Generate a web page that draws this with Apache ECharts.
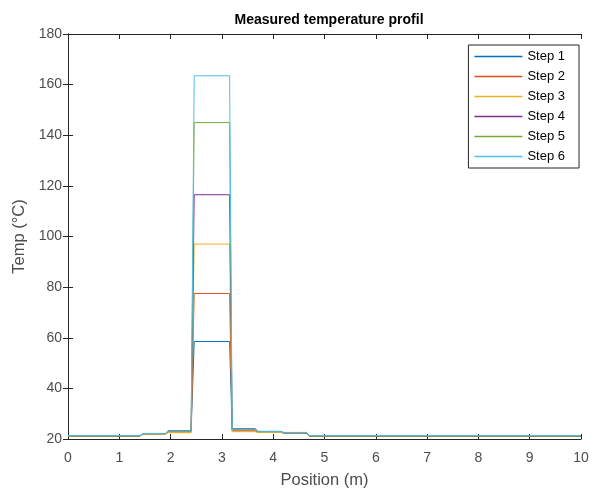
<!DOCTYPE html>
<html><head><meta charset="utf-8">
<script src="https://cdn.jsdelivr.net/npm/echarts@6/dist/echarts.min.js"></script>
<style>html,body{margin:0;padding:0;background:#fff}#c{width:594px;height:494px}</style>
</head><body><div id="c"></div>
<script>
const positions = [0, 1.40, 1.46, 1.90, 1.95, 2.40, 2.46, 3.15, 3.20, 3.65, 3.70, 4.15, 4.20, 4.65, 4.70, 10];
const step1 = [21.2, 21.2, 22.1, 22.1, 23.1, 23.1, 58.5, 58.5, 23.6, 23.6, 22.8, 22.8, 22.4, 22.4, 21.2, 21.2];
const step2 = [21.2, 21.2, 22.0, 22.0, 22.7, 22.7, 77.5, 77.5, 23.2, 23.2, 22.7, 22.7, 22.3, 22.3, 21.2, 21.2];
const step3 = [21.2, 21.2, 21.9, 21.9, 22.5, 22.5, 97.0, 97.0, 22.9, 22.9, 22.6, 22.6, 22.5, 22.5, 21.2, 21.2];
const step4 = [21.2, 21.2, 22.1, 22.1, 23.3, 23.3, 116.5, 116.5, 24.1, 24.1, 23.0, 23.0, 22.5, 22.5, 21.2, 21.2];
const step5 = [21.2, 21.2, 22.2, 22.2, 23.0, 23.0, 145.0, 145.0, 23.8, 23.8, 23.0, 23.0, 22.6, 22.6, 21.2, 21.2];
const step6 = [21.3, 21.3, 22.1, 22.1, 23.2, 23.2, 163.5, 163.5, 23.9, 23.9, 22.9, 22.9, 22.5, 22.5, 21.3, 21.3];
const seriesNames = ['Step 1', 'Step 2', 'Step 3', 'Step 4', 'Step 5', 'Step 6'];
const seriesValues = [step1, step2, step3, step4, step5, step6];
const colors = ['#0072BD', '#D95319', '#EDB120', '#7E2F8E', '#77AC30', '#4DBEEE'];
const xTicks = [0,1,2,3,4,5,6,7,8,9,10];
const yTicks = [20,40,60,80,100,120,140,160,180];

const chart = echarts.init(document.getElementById('c'), null, {renderer: 'canvas'});
const axisCol = '#262626';
const lblCol = '#4d4d4d';
const font = 'Liberation Sans, Arial, sans-serif';
function baseAxis(extra) {
  return Object.assign({
    axisLine: {show: true, lineStyle: {color: axisCol, width: 1}},
    axisTick: {show: true, inside: true, length: 5, lineStyle: {color: axisCol}},
    splitLine: {show: false}
  }, extra);
}
chart.setOption({
  animation: false,
  color: colors,
  title: {text: 'Measured temperature profil', left: 324, top: 8, textAlign: 'center',
    textStyle: {fontFamily: font, fontSize: 14, fontWeight: 'bold', color: '#000'}},
  grid: {left: 68, right: 13, top: 34, bottom: 55},
  legend: {
    right: 15, top: 45, orient: 'vertical',
    data: seriesNames,
    icon: 'rect',
    itemWidth: 48, itemHeight: 1.5, itemGap: 5,
    borderColor: axisCol, borderWidth: 1, backgroundColor: '#fff',
    padding: [4, 14, 4, 6],
    textStyle: {fontFamily: font, fontSize: 13, color: '#000', lineHeight: 15}
  },
  xAxis: [
    baseAxis({type: 'value', min: 0, max: 10, interval: 1, position: 'bottom',
      name: 'Position (m)', nameLocation: 'middle', nameGap: 33,
      nameTextStyle: {fontFamily: font, fontSize: 16.5, color: lblCol},
      axisLabel: {fontFamily: font, fontSize: 14, color: lblCol, margin: 12,
        formatter: v => xTicks.includes(v) ? String(v) : ''}}),
    baseAxis({type: 'value', min: 0, max: 10, interval: 1, position: 'top', axisLabel: {show: false}})
  ],
  yAxis: [
    baseAxis({type: 'value', min: 20, max: 180, interval: 20, position: 'left',
      name: 'Temp (°C)', nameLocation: 'middle', nameGap: 39,
      nameTextStyle: {fontFamily: font, fontSize: 16.5, color: lblCol},
      axisLabel: {fontFamily: font, fontSize: 14, color: lblCol, margin: 6,
        formatter: v => yTicks.includes(v) ? String(v) : ''}}),
    baseAxis({type: 'value', min: 20, max: 180, interval: 20, position: 'right', axisLabel: {show: false}})
  ],
  series: seriesNames.map((n, i) => ({
    name: n, type: 'line', showSymbol: false, symbol: 'none',
    lineStyle: {width: 1, color: colors[i]},
    itemStyle: {color: colors[i]},
    data: positions.map((p, k) => [p, seriesValues[i][k]])
  }))
});
</script></body></html>
